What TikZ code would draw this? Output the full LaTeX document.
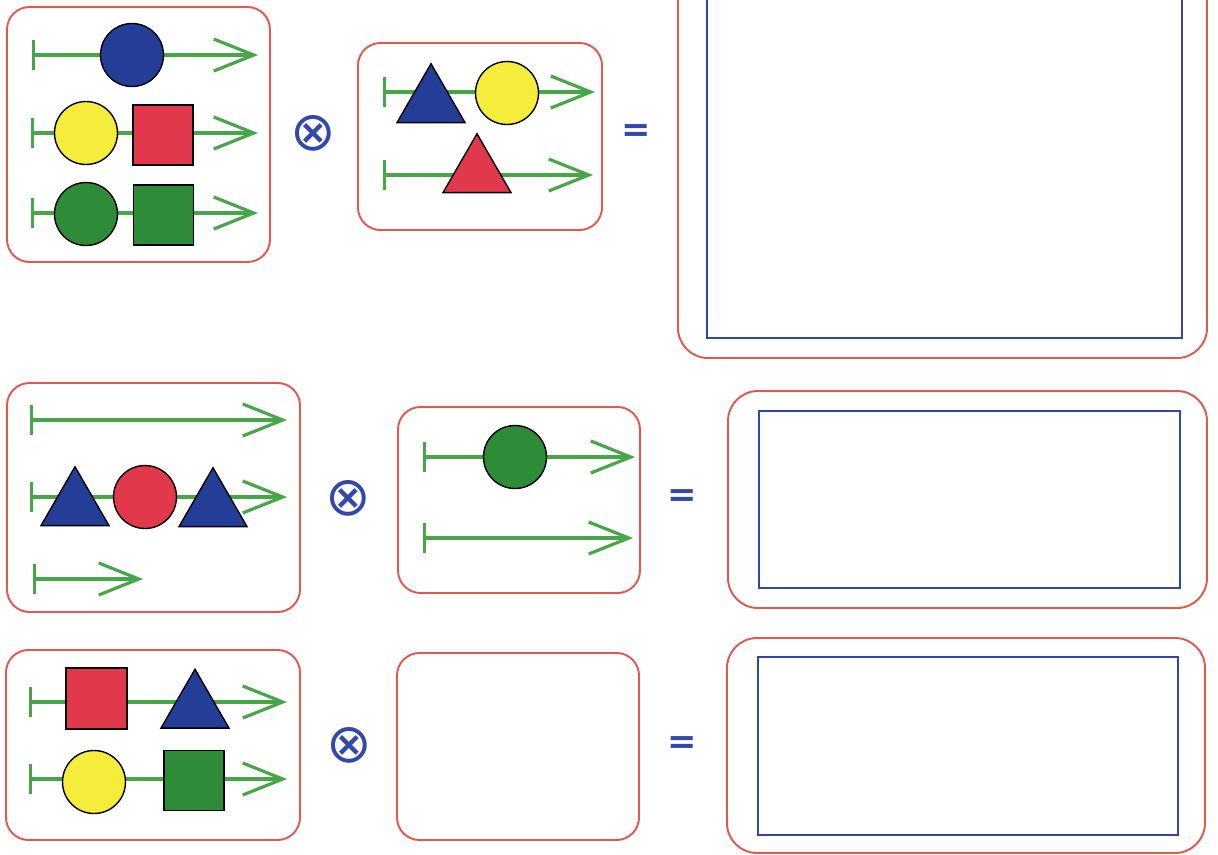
\documentclass[tikz,border=0pt]{standalone}
\usepackage{amsmath}
\usepackage{amssymb}
\usepackage{fontspec}
\usepackage{tikz}
\usetikzlibrary{arrows.meta,shapes.geometric}

\newfontfamily\opfont{DejaVu Sans}

\definecolor{cardred}{RGB}{226,88,78}
\definecolor{frameblue}{RGB}{48,70,168}
\definecolor{trackgreen}{RGB}{72,165,72}
\definecolor{shapeblue}{RGB}{36,62,152}
\definecolor{shapered}{RGB}{226,56,76}
\definecolor{shapeyellow}{RGB}{246,236,60}
\definecolor{shapegreen}{RGB}{46,140,56}
\definecolor{opblue}{RGB}{52,72,172}

\begin{document}
\begin{tikzpicture}[
  card/.style={draw=cardred,line width=1.1pt,rounded corners=0.45cm},
  bigcard/.style={card,rounded corners=0.6cm},
  answer/.style={draw=frameblue,line width=1.6pt},
  track/.style={draw=trackgreen,line width=1.8pt,{Bar[width=6mm]}-{Straight Barb[length=8mm,width=6.4mm]}},
  piece/.style={draw=black,line width=0.8pt,inner sep=0pt},
  disc/.style={piece,circle,minimum size=1.26cm},
  tile/.style={piece,rectangle,minimum size=1.2cm},
  peak/.style={piece,regular polygon,regular polygon sides=3,minimum size=1.57cm},
  op/.style={text=opblue,font=\opfont\fontsize{31pt}{31pt}\selectfont,inner sep=0pt},
  eq/.style={op,font=\opfont\bfseries\fontsize{20pt}{20pt}\selectfont}
]
  \clip (0,0) rectangle (24.36,-17.08);

  % first row
  \draw[card] (0.14,-0.14) rectangle (5.40,-5.24);
  \coordinate (a1s) at (0.64,-1.10); \coordinate (a1e) at (5.16,-1.10);
  \coordinate (a2s) at (0.62,-2.66); \coordinate (a2e) at (5.16,-2.66);
  \coordinate (a3s) at (0.62,-4.26); \coordinate (a3e) at (5.16,-4.26);
  \draw[track] (a1s) -- (a1e);
  \draw[track] (a2s) -- (a2e);
  \draw[track] (a3s) -- (a3e);
  \node[disc,fill=shapeblue] (a1c) at (2.64,-1.10) {};
  \node[disc,fill=shapeyellow] (a2c) at (1.72,-2.66) {};
  \node[tile,fill=shapered] (a2t) at (3.26,-2.70) {};
  \node[disc,fill=shapegreen] (a3c) at (1.72,-4.28) {};
  \node[tile,fill=shapegreen] (a3t) at (3.27,-4.30) {};

  \node[op] (times1) at (6.26,-2.66) {⊗};

  \draw[card] (7.16,-0.86) rectangle (12.04,-4.60);
  \coordinate (b1s) at (7.66,-1.84); \coordinate (b1e) at (11.90,-1.84);
  \coordinate (b2s) at (7.66,-3.50); \coordinate (b2e) at (11.86,-3.50);
  \draw[track] (b1s) -- (b1e);
  \draw[track] (b2s) -- (b2e);
  \node[peak,fill=shapeblue] (b1p) at (8.62,-2.06) {};
  \node[disc,fill=shapeyellow] (b1c) at (10.14,-1.86) {};
  \node[peak,fill=shapered] (b2p) at (9.54,-3.46) {};

  \node[eq] (equals1) at (12.72,-2.66) {=};

  \draw[bigcard] (13.56,0.60) rectangle (24.14,-7.16);
  \draw[answer] (14.14,0.40) rectangle (23.64,-6.76);

  % second row
  \draw[card] (0.14,-7.66) rectangle (6.00,-12.24);
  \coordinate (d1s) at (0.60,-8.40); \coordinate (d1e) at (5.74,-8.40);
  \coordinate (d2s) at (0.60,-9.94); \coordinate (d2e) at (5.74,-9.94);
  \coordinate (d3s) at (0.66,-11.58); \coordinate (d3e) at (2.86,-11.58);
  \draw[track] (d1s) -- (d1e);
  \draw[track] (d2s) -- (d2e);
  \draw[track] (d3s) -- (d3e);
  \node[peak,fill=shapeblue] (d2p) at (1.50,-10.12) {};
  \node[disc,fill=shapered] (d2c) at (2.90,-9.94) {};
  \node[peak,fill=shapeblue] (d2q) at (4.26,-10.14) {};

  \node[op] (times2) at (6.96,-9.96) {⊗};

  \draw[card] (7.96,-8.14) rectangle (12.80,-11.86);
  \coordinate (e1s) at (8.46,-9.14); \coordinate (e1e) at (12.70,-9.14);
  \coordinate (e2s) at (8.46,-10.76); \coordinate (e2e) at (12.66,-10.76);
  \draw[track] (e1s) -- (e1e);
  \draw[track] (e2s) -- (e2e);
  \node[disc,fill=shapegreen] (e1c) at (10.30,-9.14) {};

  \node[eq] (equals2) at (13.64,-9.96) {=};

  \draw[bigcard] (14.56,-7.82) rectangle (24.14,-12.16);
  \draw[answer] (15.18,-8.22) rectangle (23.60,-11.76);

  % third row
  \draw[card] (0.12,-13.00) rectangle (6.00,-16.80);
  \coordinate (g1s) at (0.58,-14.04); \coordinate (g1e) at (5.74,-14.04);
  \coordinate (g2s) at (0.58,-15.58); \coordinate (g2e) at (5.74,-15.58);
  \draw[track] (g1s) -- (g1e);
  \draw[track] (g2s) -- (g2e);
  \node[tile,fill=shapered,minimum size=1.22cm] (g1t) at (1.93,-13.97) {};
  \node[peak,fill=shapeblue] (g1p) at (3.90,-14.17) {};
  \node[disc,fill=shapeyellow] (g2c) at (1.88,-15.64) {};
  \node[tile,fill=shapegreen] (g2t) at (3.88,-15.61) {};

  \node[op] (times3) at (6.98,-14.90) {⊗};

  \draw[card] (7.94,-13.06) rectangle (12.78,-16.80);

  \node[eq] (equals3) at (13.64,-14.90) {=};

  \draw[bigcard] (14.54,-12.76) rectangle (24.10,-17.06);
  \draw[answer] (15.16,-13.14) rectangle (23.56,-16.70);
\end{tikzpicture}
\end{document}
